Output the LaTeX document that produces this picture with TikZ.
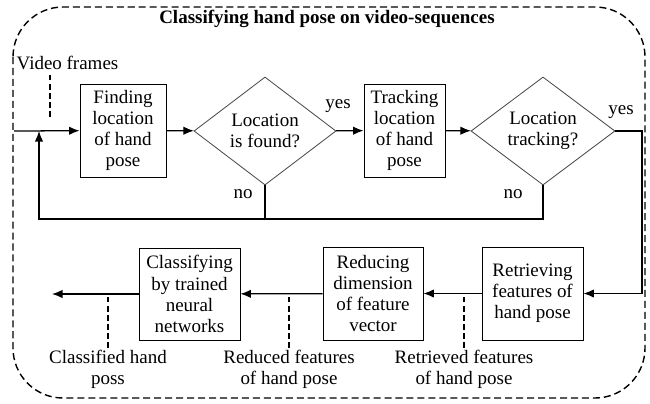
\documentclass[tikz,border=0pt]{standalone}
\usepackage{fontspec}
\setmainfont{Liberation Serif}
\usepackage{tikz}
\usetikzlibrary{arrows,arrows.meta,shapes.geometric,positioning,calc}

\tikzset{
  box/.style={draw=black, line width=0.6pt, align=center, inner sep=1pt,
    minimum width=2.5cm, minimum height=2.325cm},
  decision/.style={draw=black!70, line width=0.6pt, diamond, aspect=1.35,
    align=center, inner sep=0pt, minimum width=3.55cm, minimum height=2.7cm},
  lbl/.style={align=center, inner sep=1pt},
  tick/.style={dash pattern=on 4pt off 2.5pt, line width=0.8pt},
  arr/.style={-{Latex[length=7.5pt,width=6pt]}, line width=0.9pt}
}

\begin{document}
\begin{tikzpicture}[x=0.025cm, y=-0.025cm, font=\fontsize{13.5}{15}\selectfont]
\useasboundingbox (0,0) rectangle (650,403);
% frame
\draw[line width=1pt, dash pattern=on 5pt off 2.8pt, rounded corners=1.25cm]
  (13,7) rectangle (645,398);
\node[font=\fontsize{13.5}{15}\selectfont\bfseries] (title) at (327,19) {Classifying hand pose on video-sequences};

% upper row
\node[box, minimum width=2.15cm] (find) at (123,130.5) {Finding\\location\\of hand\\pose};
\node[decision] (found) at (265,131) {Location\\is found?};
\node[box, minimum width=2.025cm] (track) at (404.5,130.5) {Tracking\\location\\of hand\\pose};
\node[decision, minimum width=3.6cm] (tracking) at (543,131) {Location\\tracking?};

% lower row
\node[box, minimum width=2.525cm] (retrieve) at (532.5,293.5) {Retrieving\\features of\\hand pose};
\node[box] (reduce) at (373,293.5) {Reducing\\dimension\\of feature\\vector};
\node[box, minimum width=2.525cm, minimum height=2.3cm] (classify) at (189.5,294) {Classifying\\by trained\\neural\\networks};

% labels
\node[lbl, anchor=west] (video) at (15,63) {Video frames};
\node[lbl] (yes1) at (338,106) {yes};
\node[lbl] (yes2) at (621,112) {yes};
\node[lbl] (no1) at (243,194) {no};
\node[lbl] (no2) at (513,194) {no};
\node[lbl] (retrieved) at (464,369) {Retrieved features\\of hand pose};
\node[lbl] (reduced) at (289,369) {Reduced features\\of hand pose};
\node[lbl] (classified) at (108,369) {Classified hand\\poss};

\coordinate (in) at (14,131);
\coordinate (join) at (39,131);
\coordinate (back) at (39,219);
\coordinate (turn) at (642,293.5);
\coordinate (out) at (52,294);
\coordinate (vf) at (50,117);

% connectors
\draw[arr] (in) -- (find);
\draw[arr] (find) -- (found);
\draw[arr] (found) -- (track);
\draw[arr] (track) -- (tracking);
\draw[line width=0.9pt] (found.south) -- (found.south |- back);
\draw[arr] (tracking.south) |- (back) -- (join);
\draw[arr] (tracking.east) -| (turn) -- (retrieve.east);
\draw[arr] (retrieve) -- (reduce);
\draw[arr] (reduce) -- (classify);
\draw[arr] (classify) -- (out);

% dashed markers
\draw[tick] (vf) -- (vf |- video.south);
\draw[tick] (retrieved.north) -- (retrieved.north |- retrieve.west);
\draw[tick] (reduced.north) -- (reduced.north |- reduce.west);
\draw[tick] (classified.north) -- (classified.north |- classify.west);
\end{tikzpicture}
\end{document}
